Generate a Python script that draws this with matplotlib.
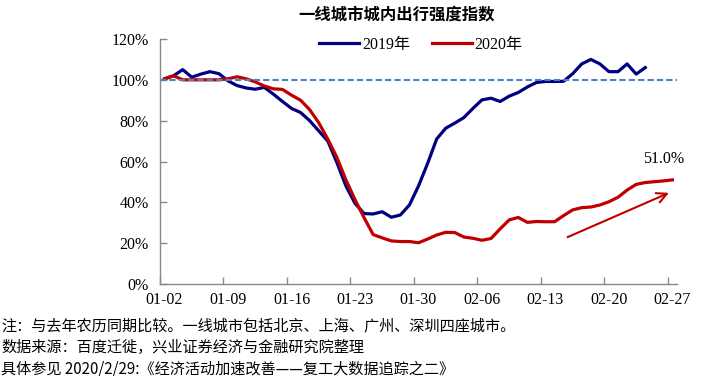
import matplotlib
matplotlib.use('Agg')
import matplotlib.pyplot as plt
from matplotlib.font_manager import FontProperties
import numpy as np

serif = ['Liberation Serif', 'Noto Sans CJK SC']
cjk = ['Noto Sans CJK SC', 'DejaVu Sans']

tick_labels = ["01-02", "01-09", "01-16", "01-23", "01-30", "02-06", "02-13", "02-20", "02-27"]

idx_2019 = [100.5, 102, 105, 101.3, 102.8, 104, 103, 99.5, 97.2, 96, 95.4, 96.3, 93, 89.4,
            86, 84, 80, 75, 70, 59.5, 48, 39.5, 34.5, 34.3, 35.4, 32.7, 33.8, 38.7, 48, 59,
            71, 76.3, 78.8, 81.5, 86, 90.2, 91, 89.4, 92, 93.8, 96.5, 98.7, 99.2, 99.2, 99.3,
            103, 107.8, 110, 107.8, 104, 104, 107.8, 102.8, 106]

idx_2020 = [100.5, 102, 100, 100, 100, 100, 100, 100.5, 101.5, 100.5, 99, 97, 95.6, 95.3,
            92.5, 90, 85.4, 79, 71, 62, 51, 41.3, 32.5, 24.2, 22.6, 21.1, 20.8, 20.8, 20.2, 22,
            24, 25.3, 25.2, 23, 22.4, 21.4, 22.3, 27, 31.4, 32.6, 30.2, 30.6, 30.5, 30.5, 33.5,
            36.3, 37.4, 37.7, 38.7, 40.3, 42.5, 46, 48.8, 49.7, 50.1, 50.5, 51.0]

fig = plt.figure(figsize=(7.05, 3.76), dpi=100)
ax = fig.add_axes([160/705, 1-284/376, (677-160)/705, (284-39)/376])

x19 = np.arange(len(idx_2019)) + 0.5
x20 = np.arange(len(idx_2020)) + 0.5
ax.plot(x19, idx_2019, color='#000080', lw=2.3, label='2019年', zorder=2)
ax.plot(x20, idx_2020, color='#C00000', lw=2.3, label='2020年', zorder=2.5)
ax.axhline(100, color='#4F81BD', lw=1.5, ls=(0, (3, 1.5)), zorder=3)

ax.set_xlim(0, 57)
ax.set_ylim(0, 120)

ax.set_xticks(np.arange(0, 57, 7))
ax.set_xticklabels([])
ax.set_xticks(np.arange(0, 57, 7) + 0.5, minor=True)
ax.set_xticklabels(tick_labels, minor=True, fontfamily=serif, fontsize=11.5)
ax.tick_params(axis='x', which='major', direction='in', length=5, color='#898989', width=1)
ax.tick_params(axis='x', which='minor', length=0, pad=6)

yt = np.arange(0, 121, 20)
ax.set_yticks(yt)
ax.set_yticklabels([f"{v}%" for v in yt], fontfamily=serif, fontsize=11.5)
ax.tick_params(axis='y', direction='in', length=5, color='#898989', width=1, pad=8)

for s in ['top', 'right']:
    ax.spines[s].set_visible(False)
for s in ['left', 'bottom']:
    ax.spines[s].set_color('#898989')
    ax.spines[s].set_linewidth(1.0)

ax.text(55.5, 61.3, "51.0%", ha='center', va='center', fontfamily=serif, fontsize=11.5)
ax.annotate('', xy=(56.4, 45.2), xytext=(44.65, 22.4),
            arrowprops=dict(arrowstyle='->', color='#C00000', lw=1.5, mutation_scale=18))

fig.legend(loc='center', bbox_to_anchor=(421/705, 1-45/376), ncol=2, frameon=False,
           prop=FontProperties(family=serif, size=11.5), handlelength=2.5,
           columnspacing=1.4, handletextpad=0.15)

fig.text(397/705, 1-15/376, "一线城市城内出行强度指数", ha='center', va='center',
         fontsize=11.8, fontweight='bold', fontfamily=cjk)

notes = ["注：与去年农历同期比较。一线城市包括北京、上海、广州、深圳四座城市。",
         "数据来源：百度迁徙，兴业证券经济与金融研究院整理",
         "具体参见 2020/2/29:《经济活动加速改善——复工大数据追踪之二》"]
for i, t in enumerate(notes):
    fig.text(1/705, 1-(326 + 21.5*i)/376, t, ha='left', va='center',
             fontsize=10.9, fontfamily=cjk)

fig.savefig('out.png', dpi=100)
